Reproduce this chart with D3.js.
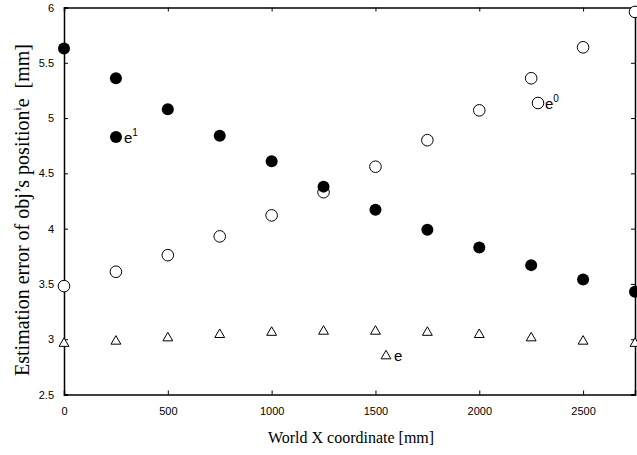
<!DOCTYPE html>
<html>
<head>
<meta charset="utf-8">
<style>
body { margin: 0; background: #fff; }
.tick text { font: 11px "Liberation Sans", Arial, sans-serif; }
.label { font-family: "Liberation Serif", "Times New Roman", serif; fill: #000; }
.leg { font: 15px "Liberation Sans", Arial, sans-serif; fill: #000; }
</style>
</head>
<body>
<script src="https://cdn.jsdelivr.net/npm/d3@7"></script>
<script>
// world x positions [mm]
var xs = [0, 250, 500, 750, 1000, 1250, 1500, 1750, 2000, 2250, 2500, 2750];
// e^1 (filled circles)
var e1 = [5.63, 5.36, 5.08, 4.84, 4.61, 4.38, 4.17, 3.99, 3.83, 3.67, 3.54, 3.43];
// e^0 (open circles)
var e0 = [3.48, 3.61, 3.76, 3.93, 4.12, 4.33, 4.56, 4.80, 5.07, 5.36, 5.64, 5.96];
// e (triangles)
var e = [2.97, 2.99, 3.02, 3.05, 3.07, 3.08, 3.08, 3.07, 3.05, 3.02, 2.99, 2.97];
var xTicks = [0, 500, 1000, 1500, 2000, 2500];
var yTicks = [2.5, 3, 3.5, 4, 4.5, 5, 5.5, 6];

var width = 637, height = 455;
var plotL = 64, plotR = 635, plotT = 7.5, plotB = 394.5;

var svg = d3.select("body").append("svg")
    .attr("width", width)
    .attr("height", height);

var x = d3.scaleLinear().domain([0, 2750]).range([plotL, plotR]);
var y = d3.scaleLinear().domain([2.5, 6]).range([plotB, plotT]);

// axes with inward ticks on all four sides
svg.append("g").attr("transform", "translate(0," + plotB + ")")
    .call(d3.axisBottom(x).tickValues(xTicks).tickSize(-4).tickPadding(13).tickFormat(d3.format("d")));
svg.append("g").attr("transform", "translate(0," + plotT + ")")
    .call(d3.axisTop(x).tickValues(xTicks).tickSize(-4).tickFormat(""));
svg.append("g").attr("transform", "translate(" + plotL + ",0)")
    .call(d3.axisLeft(y).tickValues(yTicks).tickSize(-4).tickPadding(10).tickFormat(d3.format("")));
svg.append("g").attr("transform", "translate(" + plotR + ",0)")
    .call(d3.axisRight(y).tickValues(yTicks).tickSize(-4).tickFormat(""));

svg.selectAll(".domain").attr("stroke", "#000").attr("stroke-width", 1.5);
svg.selectAll(".tick line").attr("stroke", "#000");
svg.selectAll(".tick text").attr("fill", "#000");

var pts = svg.append("g");

// triangles
var tri = d3.symbol().type(d3.symbolTriangle).size(42);
pts.selectAll(".tri").data(e).enter().append("path")
    .attr("d", tri)
    .attr("transform", function(d, i) { return "translate(" + x(xs[i]) + "," + (y(d) + 1) + ")"; })
    .attr("fill", "#fff").attr("stroke", "#000").attr("stroke-width", 1);

// open circles
pts.selectAll(".c0").data(e0).enter().append("circle")
    .attr("cx", function(d, i) { return x(xs[i]); })
    .attr("cy", function(d) { return y(d); })
    .attr("r", 5.8)
    .attr("fill", "#fff").attr("stroke", "#000").attr("stroke-width", 1);

// filled circles
pts.selectAll(".c1").data(e1).enter().append("circle")
    .attr("cx", function(d, i) { return x(xs[i]); })
    .attr("cy", function(d) { return y(d); })
    .attr("r", 6)
    .attr("fill", "#000");

// in-plot legend markers
svg.append("circle").attr("cx", 116).attr("cy", 137).attr("r", 6).attr("fill", "#000");
var t1 = svg.append("text").attr("class", "leg").attr("x", 124).attr("y", 143);
t1.append("tspan").text("e");
t1.append("tspan").attr("dy", -7).style("font-size", "10px").text("1");

svg.append("circle").attr("cx", 538).attr("cy", 103).attr("r", 5.8)
    .attr("fill", "#fff").attr("stroke", "#000");
var t0 = svg.append("text").attr("class", "leg").attr("x", 545).attr("y", 109);
t0.append("tspan").text("e");
t0.append("tspan").attr("dy", -7).style("font-size", "10px").text("0");

svg.append("path").attr("d", tri).attr("transform", "translate(386,356)")
    .attr("fill", "#fff").attr("stroke", "#000");
svg.append("text").attr("class", "leg").attr("x", 394).attr("y", 361).text("e");

// axis titles
svg.append("text").attr("class", "label")
    .attr("x", 351).attr("y", 443)
    .attr("text-anchor", "middle").style("font-size", "16px")
    .text("World X coordinate [mm]");

var yl = svg.append("text").attr("class", "label")
    .attr("transform", "translate(29,210) rotate(-90)")
    .attr("text-anchor", "middle").style("font-size", "20px");
yl.append("tspan").text("Estimation error of obj\u2019s position");
yl.append("tspan").attr("dy", -8).style("font-size", "11px").text("i");
yl.append("tspan").attr("dy", 8).text("e\u00a0\u00a0[mm]");
</script>
</body>
</html>
